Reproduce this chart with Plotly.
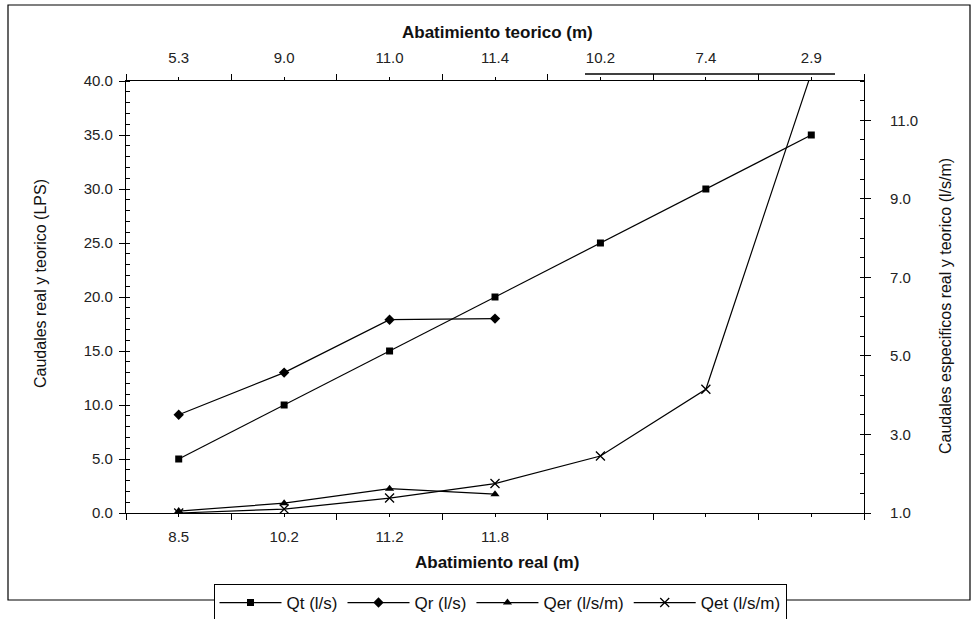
import plotly.graph_objects as go

# ---- data ----
cat_idx = [0, 1, 2, 3, 4, 5, 6]
real_labels = ["8.5", "10.2", "11.2", "11.8", "", "", ""]
teor_labels = ["5.3", "9.0", "11.0", "11.4", "10.2", "7.4", "2.9"]
qt = [5.0, 10.0, 15.0, 20.0, 25.0, 30.0, 35.0]
qr = [9.1, 13.0, 17.9, 18.0]
qer = [1.05, 1.25, 1.62, 1.48]
qet = [1.0, 1.1, 1.38, 1.75, 2.45, 4.15, 12.2]

# ---- geometry (pixels) ----
FW, FH = 975, 619
L, R, T, B = 126, 864, 81, 513
PW, PH = R - L, B - T

def px(x):
    return (x - L) / PW

def py(y):
    return (B - y) / PH

FONT = "Liberation Sans, Arial, sans-serif"
line_style = dict(color="black", width=1.2)

fig = go.Figure()
fig.add_trace(go.Scatter(x=cat_idx, y=qt, name="Qt (l/s)", mode="lines+markers",
                         line=line_style, marker=dict(symbol="square", size=7, color="black")))
fig.add_trace(go.Scatter(x=cat_idx[:len(qr)], y=qr, name="Qr (l/s)", mode="lines+markers",
                         line=line_style, marker=dict(symbol="diamond", size=8, color="black")))
fig.add_trace(go.Scatter(x=cat_idx[:len(qer)], y=qer, name="Qer (l/s/m)", mode="lines+markers",
                         yaxis="y2", line=line_style,
                         marker=dict(symbol="triangle-up", size=8, color="black")))
fig.add_trace(go.Scatter(x=cat_idx, y=qet, name="Qet (l/s/m)", mode="lines+markers",
                         yaxis="y2", line=line_style,
                         marker=dict(symbol="x-thin-open", size=9, color="black",
                                     line=dict(color="black", width=1.3))))
# invisible helper trace for the top axis
fig.add_trace(go.Scatter(x=cat_idx, y=[None] * len(cat_idx), xaxis="x2", showlegend=False,
                         hoverinfo="skip", mode="lines"))

bounds = [i - 0.5 for i in range(len(cat_idx) + 1)]
tickfont = dict(family=FONT, size=15, color="#222")

fig.update_layout(
    width=FW, height=FH,
    margin=dict(l=L, r=FW - R, t=T, b=FH - B, autoexpand=False),
    paper_bgcolor="white", plot_bgcolor="white",
    font=dict(family=FONT, color="#111"),
    showlegend=True,
    legend=dict(orientation="h", x=px(500), xanchor="center", xref="paper",
                y=py(603), yanchor="middle",
                bordercolor="black", borderwidth=1, bgcolor="white",
                font=dict(family=FONT, size=17, color="#111"), itemwidth=62,
                tracegroupgap=0),
    xaxis=dict(range=[-0.5, len(cat_idx) - 0.5], tickmode="array", tickvals=cat_idx,
               ticktext=real_labels, ticks="outside", ticklen=3, tickcolor="black",
               showline=True, linecolor="black", linewidth=1.2, showgrid=False,
               zeroline=False, tickfont=tickfont, ticklabelstandoff=7,
               minor=dict(tickmode="array", tickvals=bounds, ticks="outside",
                          ticklen=6, tickcolor="black", showgrid=False)),
    xaxis2=dict(range=[-0.5, len(cat_idx) - 0.5], overlaying="x", side="top",
                anchor="y", tickmode="array", tickvals=cat_idx, ticktext=teor_labels,
                ticks="outside", ticklen=3, tickcolor="black",
                showline=True, linecolor="black", linewidth=1.2, showgrid=False,
                zeroline=False, tickfont=tickfont, ticklabelstandoff=8,
                minor=dict(tickmode="array", tickvals=bounds, ticks="outside",
                           ticklen=6, tickcolor="black", showgrid=False)),
    yaxis=dict(range=[0, 40], tickmode="linear", tick0=0, dtick=5, tickformat=".1f",
               ticks="outside", ticklen=6, tickcolor="black", showline=True,
               linecolor="black", linewidth=1.2, showgrid=False, zeroline=False,
               tickfont=tickfont, ticklabelstandoff=3,
               minor=dict(tickmode="linear", tick0=0, dtick=1, ticks="inside",
                          ticklen=4, tickcolor="black", showgrid=False)),
    yaxis2=dict(range=[1, 12], overlaying="y", side="right", tickmode="array",
                tickvals=[1, 3, 5, 7, 9, 11], tickformat=".1f",
                ticks="outside", ticklen=6, tickcolor="black", showline=True,
                linecolor="black", linewidth=1.2, showgrid=False, zeroline=False,
                tickfont=tickfont, ticklabelstandoff=16,
                minor=dict(tickmode="linear", tick0=1, dtick=0.5, ticks="inside",
                           ticklen=4, tickcolor="black", showgrid=False)),
)

ann_common = dict(xref="paper", yref="paper", showarrow=False,
                  xanchor="center", yanchor="middle")
fig.add_annotation(text="<b>Abatimiento teorico (m)</b>", x=px(497), y=py(32),
                   font=dict(family=FONT, size=17, color="#111"), **ann_common)
fig.add_annotation(text="<b>Abatimiento real (m)</b>", x=px(497), y=py(562),
                   font=dict(family=FONT, size=17, color="#111"), **ann_common)
fig.add_annotation(text="Caudales real y teorico (LPS)", x=px(40), y=py(284),
                   textangle=-90, font=dict(family=FONT, size=16, color="#111"),
                   **ann_common)
fig.add_annotation(text="Caudales especificos real y teorico (l/s/m)", x=px(945),
                   y=py(306), textangle=-90,
                   font=dict(family=FONT, size=16, color="#111"), **ann_common)

# outer frame and stray line above top axis
fig.add_shape(type="rect", xref="paper", yref="paper", x0=px(8), x1=px(970),
              y0=py(600), y1=py(5), line=dict(color="black", width=1.2), layer="below")
fig.add_shape(type="line", xref="paper", yref="paper", x0=px(585), x1=px(835),
              y0=py(74), y1=py(74), line=dict(color="black", width=1.5))

fig.write_html("out.html")
